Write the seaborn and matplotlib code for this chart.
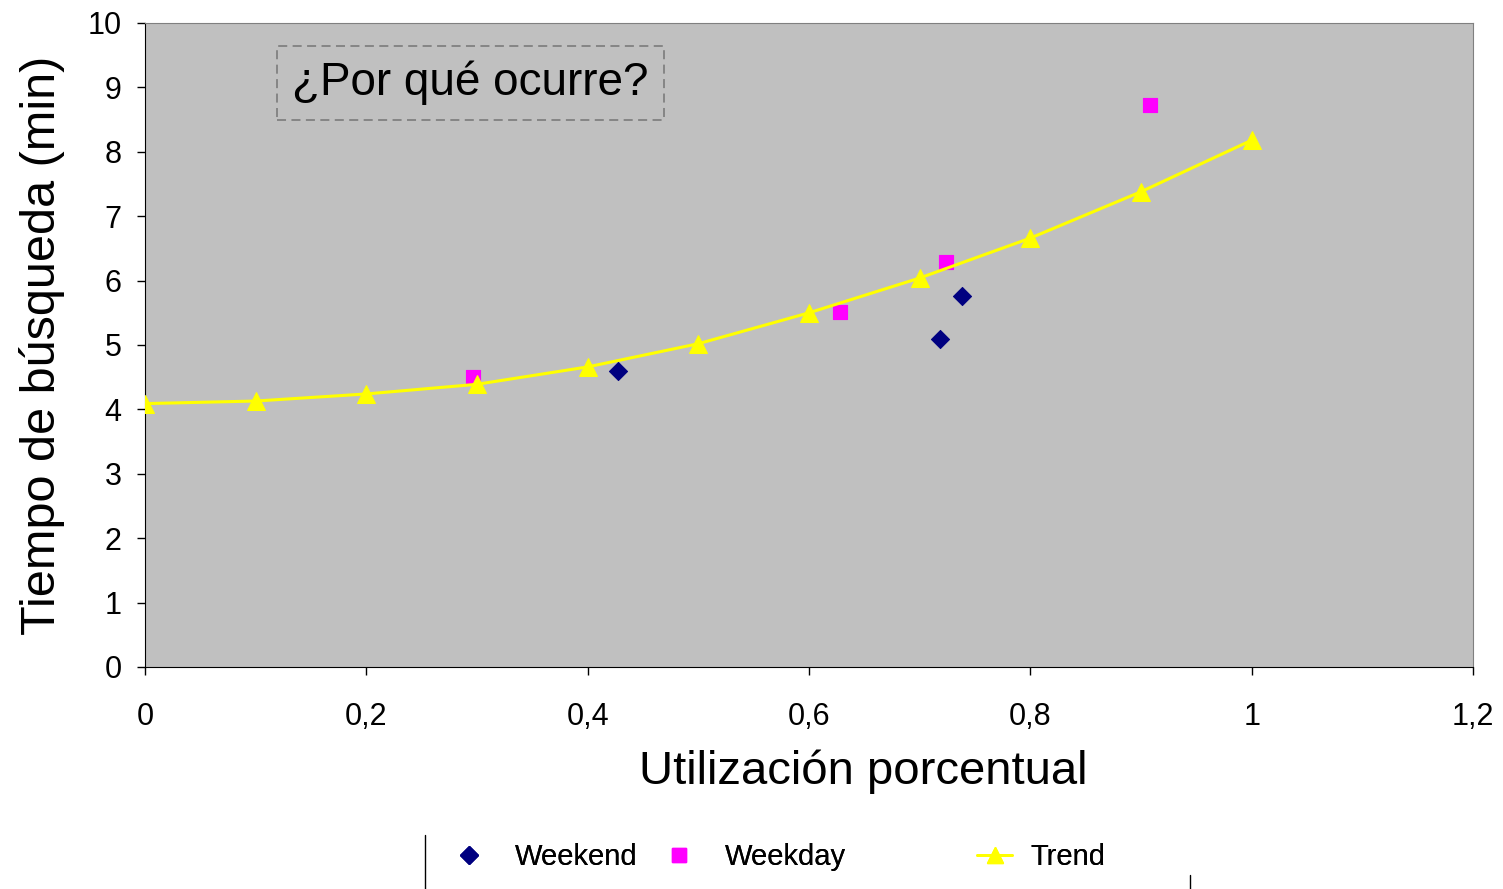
import pandas as pd
import matplotlib
matplotlib.use('Agg')
import matplotlib.pyplot as plt
import seaborn as sns
from matplotlib.lines import Line2D

# Datos
weekend_x = [0.427, 0.718, 0.738]
weekend_y = [4.60, 5.09, 5.76]
weekday_x = [0.296, 0.628, 0.724, 0.908]
weekday_y = [4.50, 5.51, 6.29, 8.73]
trend_x = [0.0, 0.1, 0.2, 0.3, 0.4, 0.5, 0.6, 0.7, 0.8, 0.9, 1.0]
trend_y = [4.09, 4.13, 4.24, 4.39, 4.66, 5.02, 5.50, 6.04, 6.66, 7.38, 8.18]
x_ticks = [0, 0.2, 0.4, 0.6, 0.8, 1, 1.2]
x_tick_labels = ['0', '0,2', '0,4', '0,6', '0,8', '1', '1,2']
y_ticks = list(range(0, 11))

sns.set_style('ticks')
plt.rcParams['font.family'] = ['Liberation Sans', 'DejaVu Sans']
plt.rcParams['text.color'] = 'black'
plt.rcParams['axes.labelcolor'] = 'black'
plt.rcParams['xtick.color'] = 'black'
plt.rcParams['ytick.color'] = 'black'

W, H = 1503, 889
fig = plt.figure(figsize=(W / 100, H / 100), dpi=100)
ax = fig.add_axes([145 / W, 1 - 667 / H, (1473 - 145) / W, (667 - 23) / H])
ax.set_facecolor('#C0C0C0')

df_trend = pd.DataFrame({'x': trend_x, 'y': trend_y})
df_we = pd.DataFrame({'x': weekend_x, 'y': weekend_y})
df_wd = pd.DataFrame({'x': weekday_x, 'y': weekday_y})

sns.lineplot(data=df_trend, x='x', y='y', ax=ax, color='#FFFF00', lw=2.2,
             marker='^', markersize=13, markeredgecolor='#FFFF00', zorder=3)
sns.scatterplot(data=df_we, x='x', y='y', ax=ax, marker='D', s=85,
                color='#000080', edgecolor='#000080', zorder=4)
sns.scatterplot(data=df_wd, x='x', y='y', ax=ax, marker='s', s=110,
                color='#FF00FF', edgecolor='#FF00FF', zorder=2)

ax.set_xlim(0, 1.2)
ax.set_ylim(0, 10)
ax.set_xticks(x_ticks)
ax.set_xticklabels(x_tick_labels)
ax.set_yticks(y_ticks)
ax.tick_params(labelsize=22, length=6, width=1)
ax.tick_params(axis='x', pad=19)
ax.tick_params(axis='y', pad=11)
ax.set_xlabel('Utilización porcentual', fontsize=34)
ax.xaxis.set_label_coords(0.541, -0.128)
ax.set_ylabel('Tiempo de búsqueda (min)', fontsize=35, labelpad=16)

for s in ['left', 'bottom']:
    ax.spines[s].set_color('black')
for s in ['top', 'right']:
    ax.spines[s].set_color('#808080')

ax.text(0.294, 9.07, '¿Por qué ocurre?', fontsize=33, ha='center', va='center',
        bbox=dict(boxstyle='square,pad=0.33', facecolor='none', edgecolor='#808080',
                  linestyle=(0, (5, 3)), lw=1.3))

# leyenda: cada entrada por separado para imitar el espaciado original
entries = [
    (Line2D([], [], marker='D', color='#000080', ls='none', markersize=9), 'Weekend', 451, 1.0),
    (Line2D([], [], marker='s', color='#FF00FF', ls='none', markersize=10), 'Weekday', 661, 1.0),
    (Line2D([], [], marker='^', color='#FFFF00', lw=2, markersize=12), 'Trend', 977, 0.62),
]
for handle, label, xpx, pad in entries:
    leg = fig.legend([handle], [label], loc='center left',
                     bbox_to_anchor=(xpx / W, 1 - 857 / H), frameon=False,
                     fontsize=21, handlelength=1.2, handletextpad=pad,
                     borderpad=0, borderaxespad=0)
    fig.add_artist(leg)

fig.add_artist(Line2D([425 / W, 425 / W], [0, 1 - 835 / H], color='black', lw=1))
fig.add_artist(Line2D([1190 / W, 1190 / W], [0, 1 - 875 / H], color='black', lw=1))

fig.savefig('out.png', dpi=100)
plt.close(fig)
